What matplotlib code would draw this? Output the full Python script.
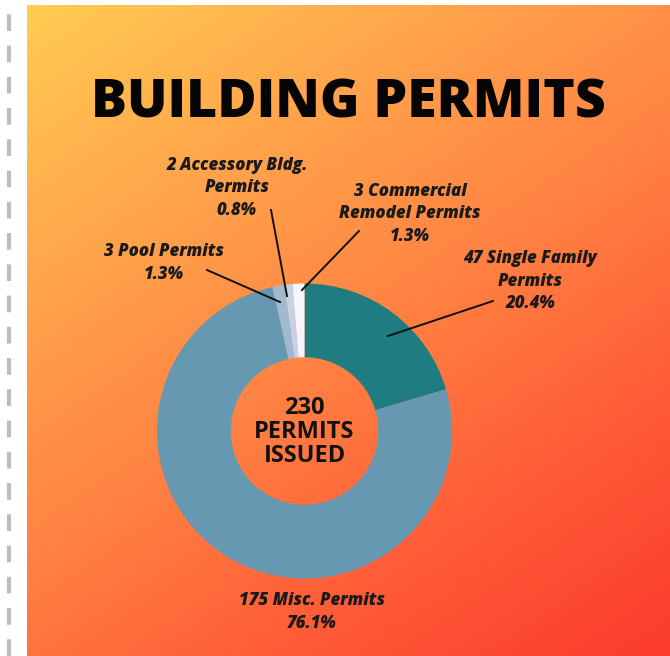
import numpy as np
import matplotlib
matplotlib.use("Agg")
import matplotlib.pyplot as plt
from matplotlib.colors import LinearSegmentedColormap

# data
categories = ["Single Family", "Misc.", "Pool", "Accessory Bldg.", "Commercial Remodel"]
counts     = [47, 175, 3, 2, 3]
labels     = ["47 Single Family\nPermits\n20.4%",
              "175 Misc. Permits\n76.1%",
              "3 Pool Permits\n1.3%",
              "2 Accessory Bldg.\nPermits\n0.8%",
              "3 Commercial\nRemodel Permits\n1.3%"]
colors     = ["#1f7c80", "#6699b1", "#9fb9d0", "#c6d0e6", "#f5f5fb"]
total_text = "230\nPERMITS\nISSUED"
title      = "BUILDING PERMITS"

W, H = 670, 656
FONT = ["Open Sans", "DejaVu Sans"]

fig = plt.figure(figsize=(W / 100, H / 100), dpi=100)
fig.patch.set_facecolor("white")
ax = fig.add_axes([0, 0, 1, 1])

# orange gradient panel, row 0 = top of the panel
grad = LinearSegmentedColormap.from_list(
    "bg", ["#ffcc52", "#ffa64c", "#ff8443", "#ff5c37", "#fb3b2d"])
xs = np.linspace(0, 1, 200)
ys = np.linspace(0, 1, 200)
gx, gy = np.meshgrid(xs, ys)
t = 0.4 * gx + 0.6 * gy
ax.imshow(t, cmap=grad, extent=(27, W, 0, H - 5), origin="upper",
          aspect="auto", zorder=0)

# dashed border on the left
ax.plot([9, 9], [0, H], color="#bdbdbd", lw=3, ls=(0, (4, 3.5)), zorder=1)

ax.text(348, H - 104, title, ha="center", va="center", fontsize=38.5,
        fontweight="heavy", family=FONT, color="#050505", zorder=5)

# donut
cx, cy, r = 304.5, H - 431, 147.5
ax.pie(counts, colors=colors, startangle=90, counterclock=False,
       center=(cx, cy), radius=r, frame=True,
       wedgeprops=dict(width=r * 0.5, linewidth=0), normalize=True)
ax.set_xlim(0, W)
ax.set_ylim(0, H)
ax.set_aspect("auto")
ax.axis("off")

ax.text(cx, H - 432, total_text, ha="center", va="center", fontsize=17,
        fontweight="bold", family=FONT, color="#111111",
        linespacing=1.0, zorder=5)

# labels and leader lines (pixel coords from top)
label_pos = [(530, 281), (312, 612), (164, 263), (237, 188), (410, 214)]
leaders = [((493, 301), (388, 336)),
           None,
           ((207, 270), (280, 302)),
           ((271, 210), (287, 296)),
           ((359, 231), (302, 290))]
for lab, (lx, ly), ld in zip(labels, label_pos, leaders):
    ax.text(lx, H - ly, lab, ha="center", va="center", fontsize=12.2,
            fontweight="heavy", fontstyle="italic", family=FONT,
            color="#1a1a1a", linespacing=1.45, zorder=5)
    if ld is not None:
        (x0, y0), (x1, y1) = ld
        ax.plot([x0, x1], [H - y0, H - y1], color="#111111", lw=1.4, zorder=4)

fig.savefig("out.png", dpi=100)
